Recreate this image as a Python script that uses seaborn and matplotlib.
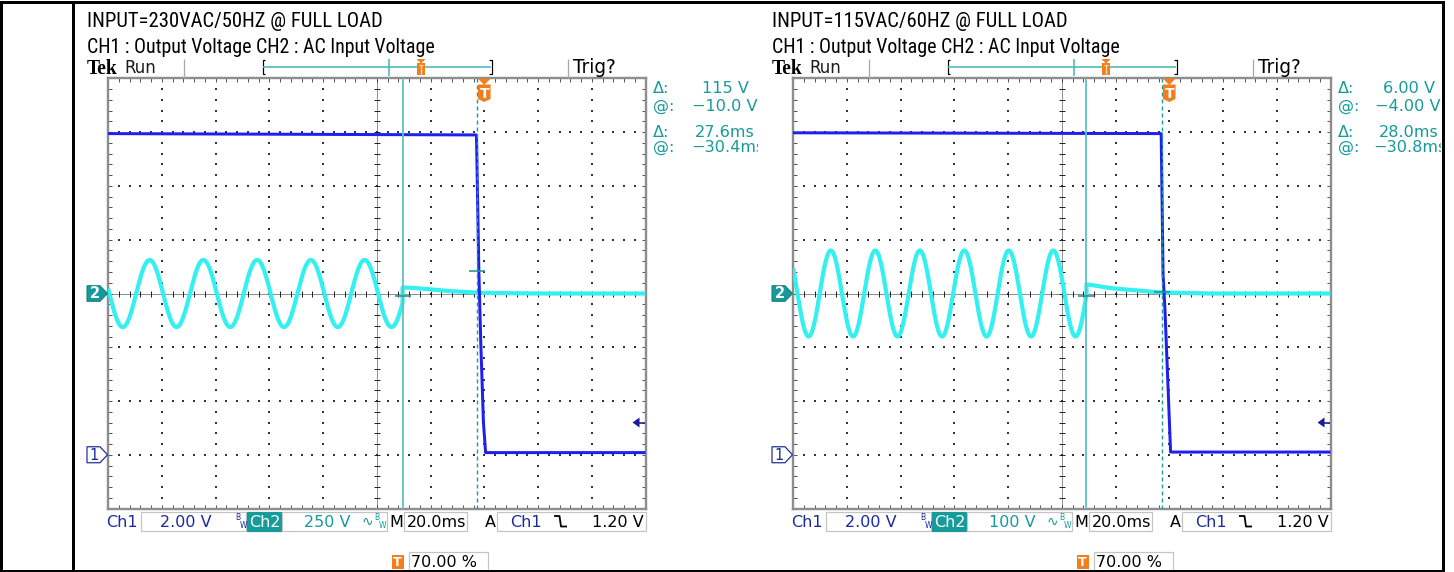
import os
import numpy as np
import pandas as pd
import matplotlib
matplotlib.use("Agg")
import matplotlib.pyplot as plt
import seaborn as sns
from matplotlib import font_manager
from matplotlib.font_manager import FontProperties
from matplotlib.patches import Polygon, Rectangle

# ---------------------------------------------------------------- data
PANEL_TITLES = ["INPUT=230VAC/50HZ @ FULL LOAD", "INPUT=115VAC/60HZ @ FULL LOAD"]
SUBTITLE = "CH1 : Output Voltage CH2 : AC Input Voltage"

CH1_VOLTS_PER_DIV = [2.0, 2.0]
CH2_VOLTS_PER_DIV = [250.0, 100.0]
CH1_SCALE_LABELS = ["2.00 V", "2.00 V"]
CH2_SCALE_LABELS = ["250 V", "100 V"]
CH1_GROUND_DIV = -3.0
CH2_GROUND_DIV = 0.0

MS_PER_DIV = 20.0
TIMEBASE_LABEL = "20.0ms"
TRIGGER_POSITION_PCT = 70.0
TRIGGER_POSITION_LABEL = "70.00 %"
TRIGGER_LEVEL_V = 1.2
TRIGGER_LEVEL_LABEL = "1.20 V"

# CH1 output voltage, read points (ms, V)
CH1_T_230 = [-140.0, -2.9, -2.0, -1.3, -0.3, 0.5, 60.0]
CH1_V_230 = [11.95, 11.9, 6.8, 4.2, 1.2, 0.08, 0.08]
CH1_T_115 = [-140.0, -3.0, -2.3, -1.6, -1.0, 0.5, 60.0]
CH1_V_115 = [11.98, 11.95, 6.7, 5.4, 3.9, 0.1, 0.1]

# CH2 AC input: sine (frequency, displayed peak, first trough, drop-out time)
AC_FREQ_HZ = [50.0, 60.4]
AC_PEAK_V = [156.0, 80.0]
AC_FIRST_TROUGH_MS = [-134.5, -134.2]
AC_DROP_MS = [-30.4, -30.8]
# CH2 after the AC input is removed, read points (ms, V)
RES_T_230 = [-30.4, -26.2, -13.7, -1.3, 20.0, 60.0]
RES_V_230 = [28.0, 26.0, 12.0, 3.0, 0.0, 0.0]
RES_T_115 = [-30.8, -29.2, -21.8, -11.9, -3.2, 15.0, 60.0]
RES_V_115 = [17.0, 16.0, 10.0, 5.6, 2.0, 0.0, 0.0]

# cursors
CURSOR_T1_MS = [-30.4, -30.8]
CURSOR_DT_MS = [27.6, 28.0]
CURSOR_V1 = [-10.0, -4.0]
CURSOR_DV = [115.0, 6.0]
READOUT_DV = ["115 V", "6.00 V"]
READOUT_AT_V = ["\u221210.0 V", "\u22124.00 V"]
READOUT_DT = ["27.6ms", "28.0ms"]
READOUT_AT_T = ["\u221230.4ms", "\u221230.8ms"]

CH1_T = [CH1_T_230, CH1_T_115]
CH1_V = [CH1_V_230, CH1_V_115]
RES_T = [RES_T_230, RES_T_115]
RES_V = [RES_V_230, RES_V_115]

# ---------------------------------------------------------------- style
sns.set_theme(style="white")
plt.rcParams["font.family"] = ["DejaVu Sans"]
plt.rcParams["lines.scale_dashes"] = False
plt.rcParams["lines.solid_capstyle"] = "butt"

W, H, DPI = 1454, 572, 100
PT = 72.0 / DPI

BLUE = "#1f1ff0"
CYAN = "#35f0f0"
NAVY = "#1b2a9e"
TEAL = "#169a9a"
CUR_SOLID = "#5cc3c3"
CUR_DASH = "#1a9f9f"
CUR_MARK = "#2b8f8f"
ORANGE = "#f47d1c"
FRAME = "#8e8e8e"
BOXEDGE = "#c4c4c4"
GRIDDOT = "#333333"


def find_condensed():
    prefs = ["liberationsansnarrow-regular", "liberationsans-narrow", "arialn.ttf",
             "robotocondensed-regular", "notosans-condensed.ttf", "notosans-condensed-regular",
             "dejavusanscondensed.ttf", "opensans-condensed"]
    paths = set()
    try:
        paths |= set(font_manager.findSystemFonts())
    except Exception:
        pass
    paths |= {f.fname for f in font_manager.fontManager.ttflist}
    low = {os.path.basename(p).lower(): p for p in paths}
    for pref in prefs:
        for name in sorted(low):
            if name.startswith(pref):
                return low[name]
    return None


_cond = find_condensed()
HEADER_FP = FontProperties(fname=_cond) if _cond else FontProperties(family="Liberation Sans")

fig = plt.figure(figsize=(W / DPI, H / DPI), dpi=DPI)
fig.patch.set_facecolor("white")
renderer = fig.canvas.get_renderer()

PANEL_DX = [0.0, 685.0]
GX0, GX1, GY0, GY1 = 108.0, 645.5, 78.5, 508.5
N_HDIV, N_VDIV = 10, 8
T_MIN = -TRIGGER_POSITION_PCT / 100.0 * N_HDIV * MS_PER_DIV
T_MAX = T_MIN + N_HDIV * MS_PER_DIV
T_CENTER = T_MIN + N_HDIV / 2 * MS_PER_DIV


def px_x(i, t):
    return GX0 + PANEL_DX[i] + (t - T_MIN) / (T_MAX - T_MIN) * (GX1 - GX0)


def px_y(d):
    return GY0 + (N_VDIV / 2 - d) / N_VDIV * (GY1 - GY0)


MS_PER_PX = (T_MAX - T_MIN) / (GX1 - GX0)

# ---------------------------------------------------------------- scope panels
for i in range(2):
    ax = fig.add_axes([(GX0 + PANEL_DX[i]) / W, 1 - GY1 / H, (GX1 - GX0) / W, (GY1 - GY0) / H])
    ax.set_facecolor("white")
    ax.set_xlim(T_MIN, T_MAX)
    ax.set_ylim(-N_VDIV / 2, N_VDIV / 2)

    sub_t = np.arange(T_MIN, T_MAX + 1e-9, MS_PER_DIV / 5)
    sub_d = np.arange(-N_VDIV / 2, N_VDIV / 2 + 1e-9, 0.2)
    dx_, dy_ = [], []
    for k in range(1, N_HDIV):
        mt = T_MIN + k * MS_PER_DIV
        if abs(mt - T_CENTER) < 1e-6:
            continue
        dx_ += [mt] * len(sub_d)
        dy_ += list(sub_d)
    for md in range(-N_VDIV // 2 + 1, N_VDIV // 2):
        if md == 0:
            continue
        dx_ += list(sub_t)
        dy_ += [md] * len(sub_t)
    ax.scatter(dx_, dy_, s=(1.5 * PT) ** 2, marker="s", color=GRIDDOT, linewidths=0, zorder=1)

    ax.axhline(0, color="#222222", lw=1 * PT, ls=(0, (1 * PT, 1 * PT)), zorder=1)
    ax.axvline(T_CENTER, color="#222222", lw=1 * PT, ls=(0, (1 * PT, 1 * PT)), zorder=1)
    ax.plot(sub_t, np.zeros_like(sub_t), ls="none", marker="|", ms=6 * PT, mew=1 * PT,
            color="#222222", zorder=1)
    ax.plot(np.full_like(sub_d, T_CENTER), sub_d, ls="none", marker="_", ms=6 * PT, mew=1 * PT,
            color="#222222", zorder=1)

    ax.set_xticks(sub_t)
    ax.set_yticks(sub_d)
    ax.tick_params(direction="in", length=4 * PT, width=1 * PT, color="#555555",
                   top=True, right=True, bottom=True, left=True,
                   labelbottom=False, labelleft=False)
    for sp in ax.spines.values():
        sp.set_color(FRAME)
        sp.set_linewidth(2.4 * PT)

    # CH2 trace
    f, A = AC_FREQ_HZ[i], AC_PEAK_V[i]
    t_ac = np.linspace(T_MIN, AC_DROP_MS[i], 1500)
    v_ac = -A * np.cos(2 * np.pi * f * (t_ac - AC_FIRST_TROUGH_MS[i]) / 1000.0)
    t2 = np.concatenate([t_ac, RES_T[i]])
    v2 = np.concatenate([v_ac, RES_V[i]])
    df2 = pd.DataFrame({"time_ms": t2, "div": v2 / CH2_VOLTS_PER_DIV[i] + CH2_GROUND_DIV})
    sns.lineplot(data=df2, x="time_ms", y="div", ax=ax, color=CYAN, lw=4.2 * PT,
                 sort=False, estimator=None, legend=False, zorder=3)

    # CH1 trace
    df1 = pd.DataFrame({"time_ms": CH1_T[i],
                        "div": np.array(CH1_V[i]) / CH1_VOLTS_PER_DIV[i] + CH1_GROUND_DIV})
    sns.lineplot(data=df1, x="time_ms", y="div", ax=ax, color=BLUE, lw=3.0 * PT,
                 sort=False, estimator=None, legend=False, zorder=4)

    # cursors
    t1 = CURSOR_T1_MS[i]
    t2c = t1 + CURSOR_DT_MS[i]
    ax.axvline(t1, color=CUR_SOLID, lw=1.8 * PT, zorder=5)
    ax.axvline(t2c, color=CUR_DASH, lw=1.4 * PT, ls=(0, (4 * PT, 3 * PT)), zorder=5)
    hw = 8 * MS_PER_PX
    vd = CH2_VOLTS_PER_DIV[i]
    ax.plot([t1 - hw, t1 + hw], [CURSOR_V1[i] / vd] * 2, color=CUR_MARK, lw=1.6 * PT, zorder=6)
    ax.plot([t2c - hw, t2c + hw], [(CURSOR_V1[i] + CURSOR_DV[i]) / vd] * 2, color=CUR_MARK,
            lw=1.6 * PT, zorder=6)
    ax.set_xlabel("")
    ax.set_ylabel("")

# ---------------------------------------------------------------- overlay (pixel space)
ov = fig.add_axes([0, 0, 1, 1], zorder=10)
ov.set_xlim(0, W)
ov.set_ylim(H, 0)
ov.axis("off")
ov.patch.set_alpha(0)


def fit(t, width):
    bb = t.get_window_extent(renderer)
    t.set_fontsize(t.get_fontsize() * width / bb.width)
    return t


def txt(x, y, s, size=11.5, color="black", **kw):
    kw.setdefault("ha", "left")
    kw.setdefault("va", "baseline")
    return ov.text(x, y, s, fontsize=size, color=color, zorder=3, **kw)


def box(x0, y0, x1, y1, fc="white", ec=BOXEDGE):
    ov.add_patch(Rectangle((x0, y0), x1 - x0, y1 - y0, fc=fc, ec=ec, lw=1.2 * PT, zorder=2))


def line(xs, ys, color, lw, zorder=4, **kw):
    ov.plot(xs, ys, color=color, lw=lw * PT, zorder=zorder, solid_capstyle="butt", **kw)


for i in range(2):
    dx = PANEL_DX[i]
    # headers
    fp = HEADER_FP.copy()
    fp.set_size(16)
    fit(ov.text(87 + dx, 27, PANEL_TITLES[i], fontproperties=fp, color="black", va="baseline"), 296)
    fp2 = HEADER_FP.copy()
    fp2.set_size(16)
    fit(ov.text(87 + dx, 53, SUBTITLE, fontproperties=fp2, color="black", va="baseline"), 350)

    fit(txt(87 + dx, 74, "Tek", size=15, family=["Liberation Serif"], weight="bold"), 31)
    fit(txt(124 + dx, 73, "Run", size=11.5, color="#1a1a1a"), 32)
    fit(txt(573 + dx, 73, "Trig?", size=12), 43)

    # record bar
    line([184 + dx] * 2, [59, 78], "#a8a8a8", 1.3)
    line([568 + dx] * 2, [59, 78], "#a8a8a8", 1.3)
    line([265 + dx, 262.5 + dx, 262.5 + dx, 265 + dx], [60, 60, 73.5, 73.5], "black", 1.2)
    line([489 + dx, 491.5 + dx, 491.5 + dx, 489 + dx], [60, 60, 73.5, 73.5], "black", 1.2)
    line([263 + dx, 491 + dx], [66.7, 66.7], "#4cb8b8", 1.6)
    line([389 + dx] * 2, [59, 76], "#4cb8b8", 1.6)
    mx = 421 + dx
    ov.add_patch(Polygon([(mx - 4.5, 59), (mx + 4.5, 59), (mx, 63.5)], closed=True, fc=ORANGE,
                         ec="none", zorder=5))
    ov.add_patch(Rectangle((mx - 4, 62.5), 8, 12.5, fc=ORANGE, ec="none", zorder=5))
    line([mx, mx], [64.5, 73.5], "#ffd9b0", 1.4, zorder=6)
    line([mx - 2, mx + 2], [64.5, 64.5], "#ffd9b0", 1.2, zorder=6)

    # trigger position marker
    cx = px_x(i, 0.0)
    top = GY0
    ov.add_patch(Polygon([(cx - 6.5, top), (cx + 6.5, top), (cx, top + 6.5)], closed=True,
                         fc=ORANGE, ec="none", zorder=5))
    ov.add_patch(Polygon([(cx - 6.3, top + 6), (cx + 6.3, top + 6), (cx + 6.3, top + 20.5),
                          (cx, top + 23.5), (cx - 6.3, top + 20.5)], closed=True,
                         fc=ORANGE, ec="none", zorder=5))
    ov.text(cx, top + 15, "T", color="white", fontsize=10, weight="bold", ha="center",
            va="center", zorder=6)

    # channel ground markers
    y2 = px_y(CH2_GROUND_DIV)
    xl = GX0 + dx
    ov.add_patch(Polygon([(xl - 21, y2 - 7.8), (xl - 8, y2 - 7.8), (xl - 0.5, y2), (xl - 8, y2 + 7.8),
                          (xl - 21, y2 + 7.8)], closed=True, fc=TEAL, ec="#0f7c7c", lw=1 * PT,
                         zorder=5))
    ov.text(xl - 13.5, y2 + 0.5, "2", color="white", fontsize=10.5, weight="bold", ha="center",
            va="center", zorder=6)
    y1 = px_y(CH1_GROUND_DIV)
    ov.add_patch(Polygon([(xl - 21, y1 - 8), (xl - 8, y1 - 8), (xl - 0.5, y1), (xl - 8, y1 + 8),
                          (xl - 21, y1 + 8)], closed=True, fc="white", ec=NAVY, lw=1.2 * PT,
                         zorder=5))
    ov.text(xl - 14, y1 + 0.5, "1", color=NAVY, fontsize=10.5, ha="center", va="center", zorder=6)

    # trigger level arrow
    yt = px_y(TRIGGER_LEVEL_V / CH1_VOLTS_PER_DIV[i] + CH1_GROUND_DIV)
    xr = GX1 + dx
    ov.add_patch(Polygon([(xr - 13, yt), (xr - 6, yt - 5), (xr - 6, yt + 5)], closed=True,
                         fc="#1a1a9a", ec="none", zorder=5))
    line([xr - 7, xr - 0.5], [yt, yt], "#1a1a9a", 1.6, zorder=5)

    # cursor readouts
    rx = [[701.7, 691.7, 695.0, 691.7], [698.0, 690.0, 694.0, 688.0]][i]
    rows = [("\u0394:", READOUT_DV[i], 93), ("@:", READOUT_AT_V[i], 111),
            ("\u0394:", READOUT_DT[i], 137), ("@:", READOUT_AT_T[i], 152)]
    for (lab, val, yb), vx in zip(rows, rx):
        txt(653 + dx, yb, lab, size=11.6, color=TEAL)
        txt(vx + dx, yb, val, size=11.6, color=TEAL)

    # status bar
    sb = 527
    txt(106.4 + dx, sb, "Ch1", color=NAVY)
    box(140.8 + dx, 512, 246 + dx, 531)
    txt(160 + dx, sb, CH1_SCALE_LABELS[i], color=NAVY)
    txt(235.5 + dx, 520.5, "B", size=5.5, color=NAVY)
    txt(239.5 + dx, 528, "W", size=5.5, color=NAVY)
    box(246.8 + dx, 512, 280.5 + dx, 531, fc=TEAL, ec=TEAL)
    txt(249.5 + dx, sb, "Ch2", color="white")
    box(281.6 + dx, 512, 387 + dx, 531)
    txt(304 + dx, sb, CH2_SCALE_LABELS[i], color=TEAL)
    txt(362 + dx, sb - 1, "\u223f", size=10, color=TEAL)
    txt(374.5 + dx, 520.5, "B", size=5.5, color=TEAL)
    txt(378.5 + dx, 528, "W", size=5.5, color=TEAL)
    txt(389 + dx, sb, "M")
    box(403.7 + dx, 512, 467.2 + dx, 531)
    txt(406.8 + dx, sb, TIMEBASE_LABEL)
    txt(485 + dx, sb, "A")
    box(496.7 + dx, 512, 646 + dx, 531)
    txt(510 + dx, sb, "Ch1", color=NAVY)
    line([554 + dx, 559.5 + dx, 561 + dx, 567 + dx], [516, 516, 526.5, 526.5], "black", 1.8)
    txt(592 + dx, sb, TRIGGER_LEVEL_LABEL)

    ov.add_patch(Rectangle((391.5 + dx, 555), 12.2, 13.5, fc=ORANGE, ec="none", zorder=2))
    ov.text(397.6 + dx, 562, "T", color="white", fontsize=9, weight="bold", ha="center",
            va="center", zorder=3)
    box(408.7 + dx, 552, 488 + dx, 572)
    txt(411.4 + dx, 567, TRIGGER_POSITION_LABEL)

# clip readout overflow at the screenshot edges
ov.add_patch(Rectangle((757.5, 78), 12, 82, fc="white", ec="none", zorder=7))
ov.add_patch(Rectangle((1441, 78), 13, 82, fc="white", ec="none", zorder=7))

# outer frame
fk = dict(color="black", lw=3.0 * PT, zorder=8, solid_capstyle="projecting")
ov.plot([1.4, 1442.8], [1.5, 1.5], **fk)
ov.plot([1.4, 1442.8], [570.6, 570.6], **fk)
ov.plot([1.4, 1.4], [1.5, 570.6], **fk)
ov.plot([1442.8, 1442.8], [1.5, 570.6], **fk)
ov.plot([72.7, 72.7], [1.5, 570.6], **fk)

fig.savefig("out.png", dpi=DPI)
